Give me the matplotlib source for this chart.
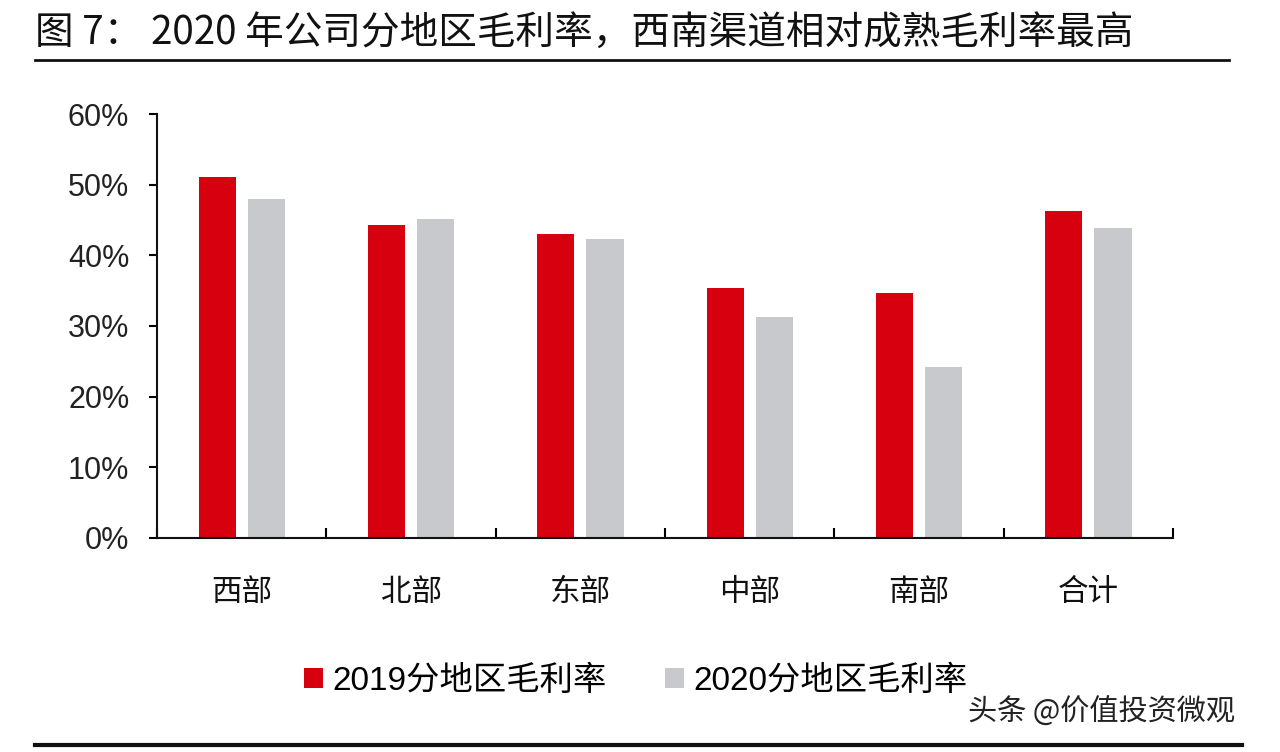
import matplotlib.pyplot as plt
from matplotlib.lines import Line2D
import numpy as np

plt.rcParams['font.family'] = ['Liberation Sans', 'Noto Sans CJK SC', 'DejaVu Sans']

regions = ['西部', '北部', '东部', '中部', '南部', '合计']
margin_2019 = [51.1, 44.3, 43.0, 35.4, 34.7, 46.3]
margin_2020 = [48.0, 45.1, 42.3, 31.3, 24.2, 43.9]
yticks = [0, 10, 20, 30, 40, 50, 60]

red = '#d7000f'
grey = '#c8c9cc'

fig = plt.figure(figsize=(12.8, 7.52), dpi=100)
ax = fig.add_axes([0.1227, 0.2846, 0.7937, 0.5638])

x = np.arange(len(regions))
w = 0.22
b1 = ax.bar(x - 0.145, margin_2019, w, color=red, label='2019分地区毛利率')
b2 = ax.bar(x + 0.145, margin_2020, w, color=grey, label='2020分地区毛利率')

ax.set_xlim(-0.5, len(regions) - 0.5)
ax.set_ylim(0, 60)
ax.set_yticks(yticks)
ax.set_yticklabels([f'{t}%' for t in yticks], fontsize=22, color='#222222')
ax.set_xticks(x)
ax.set_xticklabels(regions, fontsize=22, color='#111111',
                   family=['Noto Sans CJK SC', 'DejaVu Sans'])
ax.set_xticks(np.arange(len(regions) + 1) - 0.5, minor=True)
ax.tick_params(axis='x', which='major', length=0, pad=28)
ax.tick_params(axis='x', which='minor', direction='in', length=7, width=1.5)
ax.tick_params(axis='y', direction='out', length=6, width=1.5, pad=14)

for s in ['top', 'right']:
    ax.spines[s].set_visible(False)
for s in ['left', 'bottom']:
    ax.spines[s].set_linewidth(1.5)
    ax.spines[s].set_color('#111111')

fig.legend(handles=[b1, b2], loc='center', bbox_to_anchor=(0.497, 0.094),
           ncol=2, frameon=False, handlelength=0.55,
           handleheight=0.55, handletextpad=0.3, columnspacing=1.75,
           prop={'family': ['Liberation Sans', 'Noto Sans CJK SC'], 'size': 24})

fig.text(0.027, 0.956, '图 7： 2020 年公司分地区毛利率，西南渠道相对成熟毛利率最高',
         fontsize=27.8, va='center', ha='left', color='#111111',
         family=['Noto Sans CJK SC', 'DejaVu Sans'])
fig.add_artist(Line2D([0.027, 0.96], [0.92, 0.92], color='#111111', lw=2))
fig.add_artist(Line2D([0.027, 0.97], [0.009, 0.009], color='#111111', lw=3))

fig.text(0.965, 0.052, '头条 @价值投资微观', fontsize=21, ha='right', va='center',
         color='#222222', family=['Noto Sans CJK SC', 'DejaVu Sans'])

plt.savefig('out.png', dpi=100)
